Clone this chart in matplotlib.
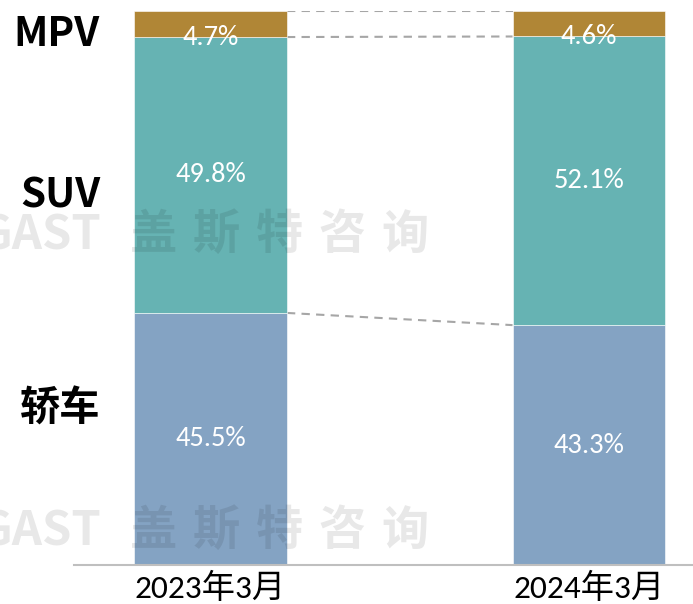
import numpy as np
import matplotlib
matplotlib.use('Agg')
import matplotlib.pyplot as plt

# data
periods = ["2023年3月", "2024年3月"]
segments = ["轿车", "SUV", "MPV"]
sedan = [45.5, 43.3]
suv = [49.8, 52.1]
mpv = [4.7, 4.6]
colors = ["#84A3C3", "#66B3B3", "#B08636"]

W, H = 693, 604
fig = plt.figure(figsize=(W / 100, H / 100), dpi=100)
ax = fig.add_axes([74 / W, (H - 565) / H, (W - 74) / W, (565 - 11) / H])

num_font = ['Carlito', 'Noto Sans CJK SC']
x = np.arange(len(periods))
bw = 0.404
bottom = np.zeros(len(periods))
tops = [bottom.copy()]
for i, vals in enumerate([sedan, suv, mpv]):
    vals = np.array(vals)
    ax.bar(x, vals, bw, bottom=bottom, color=colors[i], edgecolor='white', linewidth=0.4, zorder=2)
    for j in range(len(x)):
        # small top segment: label sits on its lower edge
        ty = bottom[j] if i == 2 else bottom[j] + vals[j] / 2
        ax.text(x[j], ty, f"{vals[j]:.1f}%", ha='center', va='center', color='white',
                fontsize=20.5, family=num_font, zorder=4)
    bottom = bottom + vals
    tops.append(bottom.copy())

# dashed connectors between segment boundaries
for b in tops[1:]:
    ax.plot([x[0] + bw / 2, x[1] - bw / 2], [b[0], b[1]], ls=(0, (4, 3)), color='#A6A6A6',
            lw=1.5, zorder=1)

ax.set_xlim(-0.3606, 1.2748)
ax.set_ylim(0, 100)
for s in ['top', 'right', 'left']:
    ax.spines[s].set_visible(False)
ax.spines['bottom'].set_color('#BFBFBF')
ax.spines['bottom'].set_linewidth(1.5)
ax.spines['bottom'].set_zorder(5)
ax.set_yticks([])
ax.set_xticks(x)
ax.set_xticklabels(periods, fontsize=24, family=num_font)
ax.tick_params(axis='x', length=0, pad=5)

# segment names on the left
label_y = [409, 196, 35]
for name, yy in zip(segments, label_y):
    fig.text(100 / W, 1 - yy / H, name, ha='right', va='center', fontsize=29,
             fontweight='bold', family=['Noto Sans CJK SC', 'DejaVu Sans'])

# watermark
for wy in [235, 531]:
    fig.text(101 / W, 1 - wy / H, "GAST", ha='right', va='center', fontsize=34,
             fontweight='bold', family='Noto Sans CJK SC', color='black', alpha=0.09, zorder=10)
    for k, ch in enumerate("盖斯特咨询"):
        fig.text((154 + 62.7 * k) / W, 1 - wy / H, ch, ha='center', va='center', fontsize=34,
                 fontweight='bold', family='Noto Sans CJK SC', color='black', alpha=0.09, zorder=10)

fig.savefig('out.png', dpi=100)
